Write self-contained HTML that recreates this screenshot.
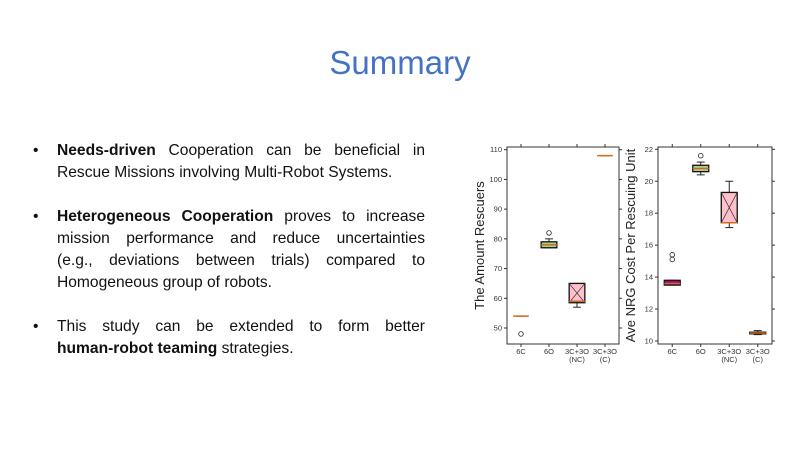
<!DOCTYPE html>
<html><head><meta charset="utf-8">
<style>
body{margin:0;width:800px;height:450px;background:#fff;overflow:hidden;font-family:"Liberation Sans",sans-serif;position:relative}
#title{position:absolute;top:44px;left:0;width:800px;text-align:center;font-size:33px;color:#4472c4}
.bl{position:absolute;left:57px;width:368px;font-size:15.6px;line-height:22px;color:#111}
.bl div{text-align:justify;text-align-last:justify;white-space:nowrap}
.bl div.last{text-align-last:left}
.bl b{font-weight:bold}
.dot{position:absolute;left:-24px;top:0}
svg{position:absolute;left:0;top:0}
</style></head><body>
<div id="title">Summary</div>
<div class="bl" style="top:140px"><span class="dot">•</span><div><b>Needs-driven</b> Cooperation can be beneficial in</div><div class="last">Rescue Missions involving Multi-Robot Systems.</div></div>
<div class="bl" style="top:206px"><span class="dot">•</span><div><b>Heterogeneous Cooperation</b> proves to increase</div><div>mission performance and reduce uncertainties</div><div>(e.g., deviations between trials) compared to</div><div class="last">Homogeneous group of robots.</div></div>
<div class="bl" style="top:316px"><span class="dot">•</span><div>This study can be extended to form better</div><div class="last"><b>human-robot teaming</b> strategies.</div></div>
<svg id="ch" width="800" height="450"></svg>
<script>
const categories=["6C","6O","3C+3O|(NC)","3C+3O|(C)"];
const rescQ1=[54,77,58.5,108],rescMed=[54,78,59,108],rescQ3=[54,79,65,108],rescLo=[54,77,57,108],rescHi=[54,80,65,108];
const rescOut=[[48],[82],[],[]];
const rescTicks=[50,60,70,80,90,100,110];
const nrgQ1=[13.5,20.6,17.4,10.45],nrgMed=[13.6,20.8,17.4,10.5],nrgQ3=[13.8,21.0,19.3,10.55],nrgLo=[13.5,20.4,17.1,10.4],nrgHi=[13.8,21.2,20.0,10.65];
const nrgOut=[[15.1,15.4],[21.6],[],[]];
const nrgTicks=[10,12,14,16,18,20,22];
const fills=["#b0008a","#a8d08d","#ffc0cb","#c96b1a"];
const NS="http://www.w3.org/2000/svg";
const svg=document.getElementById('ch');
function mk(t,a,p){const e=document.createElementNS(NS,t);for(const k in a)e.setAttribute(k,a[k]);(p||svg).appendChild(e);return e;}
function chart(o){
 const y=v=>o.y0+(v-o.v0)*(o.y1-o.y0)/(o.v1-o.v0);
 const sp=(o.R-o.L)/categories.length;
 const x=i=>o.L+(i+0.5)*sp;
 const g=mk('g',{});
 
 
 mk('rect',{x:o.L,y:o.T,width:o.R-o.L,height:o.B-o.T,fill:'none',stroke:'#333','stroke-width':1},g);
 o.ticks.forEach(t=>{const yy=y(t);mk('line',{x1:o.L-3,x2:o.L,y1:yy,y2:yy,stroke:'#333'},g);mk('line',{x1:o.R,x2:o.R+3,y1:yy,y2:yy,stroke:'#333'},g);
  const tx=mk('text',{x:o.L-5,y:yy+2.5,'font-size':7.5,'text-anchor':'end',fill:'#333'},g);tx.textContent=t;});
 const ta=mk('text',{transform:`translate(${o.L-23},${(o.T+o.B)/2}) rotate(-90)`,'font-size':13,'text-anchor':'middle',fill:'#222'},g);
 ta.textContent=o.label;
 
 
 const w=sp*0.28, cw=sp*0.14;
 categories.forEach((c,i)=>{
  const cx=x(i);
  mk('line',{x1:cx,x2:cx,y1:o.B,y2:o.B+3,stroke:'#333'},g);mk('line',{x1:cx,x2:cx,y1:o.T,y2:o.T-3,stroke:'#333'},g);
  c.split('|').forEach((s,k)=>{const t=mk('text',{x:cx,y:o.B+10+k*8,'font-size':7.5,'text-anchor':'middle',fill:'#333'},g);t.textContent=s;});
  const bx=mk('g',{},g);
  
  
  mk('line',{x1:cx,x2:cx,y1:y(o.hi[i]),y2:y(o.q3[i]),stroke:'#222'},bx);
  mk('line',{x1:cx,x2:cx,y1:y(o.q1[i]),y2:y(o.lo[i]),stroke:'#222'},bx);
  mk('line',{x1:cx-cw,x2:cx+cw,y1:y(o.hi[i]),y2:y(o.hi[i]),stroke:'#222'},bx);
  mk('line',{x1:cx-cw,x2:cx+cw,y1:y(o.lo[i]),y2:y(o.lo[i]),stroke:'#222'},bx);
  const yt=y(o.q3[i]),yb=y(o.q1[i]);
  if(yb-yt>0.5){
   mk('rect',{x:cx-w,y:yt,width:2*w,height:yb-yt,fill:fills[i],stroke:'#111','stroke-width':1.3},bx);
   if(i==2&&yb-yt>4){mk('path',{d:`M${cx-w},${yt}L${cx+w},${yb}M${cx+w},${yt}L${cx-w},${yb}`,stroke:'#333','stroke-width':0.7},bx);}
  }
  mk('line',{x1:cx-w,x2:cx+w,y1:y(o.med[i]),y2:y(o.med[i]),stroke:'#d2691e','stroke-width':1.5},bx);
  o.out[i].forEach(v=>mk('circle',{cx:cx,cy:y(v),r:2.3,fill:'none',stroke:'#222','stroke-width':0.8},bx));
 });
}
chart({name:'rescuers-chart',L:507,R:619,T:147,B:344,v0:50,y0:328,v1:110,y1:149.7,ticks:rescTicks,label:'The Amount Rescuers',q1:rescQ1,med:rescMed,q3:rescQ3,lo:rescLo,hi:rescHi,out:rescOut});
chart({name:'energy-chart',L:658,R:772,T:147,B:344,v0:10,y0:341,v1:22,y1:149.3,ticks:nrgTicks,label:'Ave NRG Cost Per Rescuing Unit',q1:nrgQ1,med:nrgMed,q3:nrgQ3,lo:nrgLo,hi:nrgHi,out:nrgOut});
</script>
</body></html>
